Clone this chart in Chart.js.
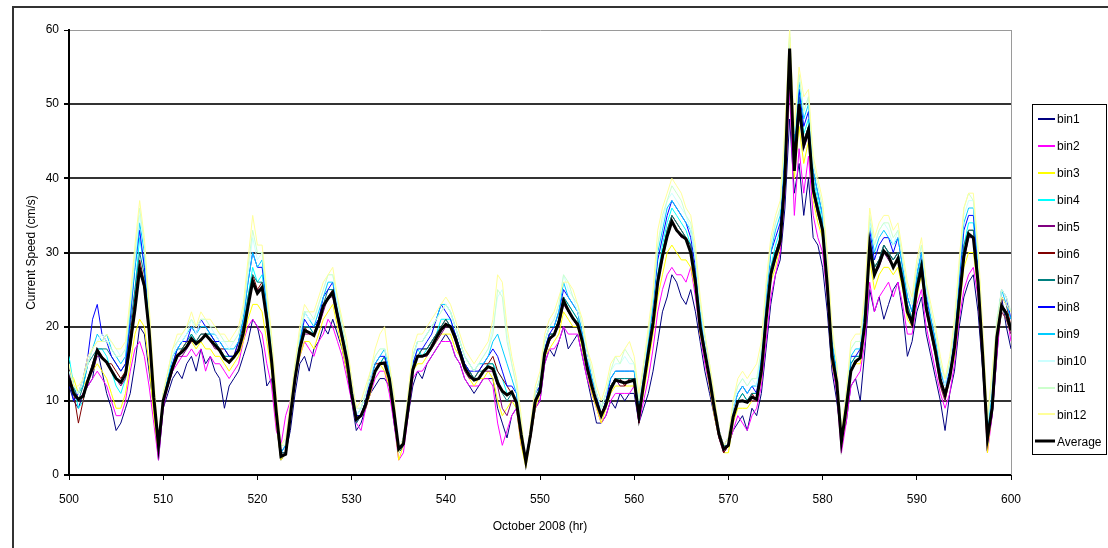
<!DOCTYPE html>
<html>
<head>
<meta charset="utf-8">
<script src="https://cdn.jsdelivr.net/npm/chart.js@4/dist/chart.umd.min.js"></script>
<style>
  html, body { margin: 0; padding: 0; background: #fff; }
  canvas { display: block; }
</style>
</head>
<body>
<canvas id="speedChart" width="1108" height="548"></canvas>
<script>
// half-hourly samples, October 2008, hours 500..600
const hours = Array.from({ length: 201 }, (_, i) => 500 + i * 0.5);
const xTicks = [500, 510, 520, 530, 540, 550, 560, 570, 580, 590, 600];
const yTicks = [0, 10, 20, 30, 40, 50, 60];

const binLabels = ['bin1', 'bin2', 'bin3', 'bin4', 'bin5', 'bin6', 'bin7', 'bin8', 'bin9', 'bin10', 'bin11', 'bin12'];
const binColors = ['#000080', '#FF00FF', '#FFFF00', '#00FFFF', '#800080', '#800000', '#008080', '#0000FF', '#00CCFF', '#CCFFFF', '#CCFFCC', '#FFFF99'];

const bin1 = [
  12, 10, 9, 11, 12, 13, 17, 14, 11, 9, 6, 7, 9, 11, 15, 20, 19, 14, 9, 2,
  9, 11, 13, 14, 13, 15, 16, 14, 17, 15, 16, 14, 13, 9, 12, 13, 14, 16, 18, 21,
  20, 17, 12, 13, 7, 2, 3, 6, 11, 15, 16, 14, 17, 18, 20, 19, 21, 19, 17, 14,
  10, 6, 7, 9, 11, 12, 13, 13, 12, 7, 3, 4, 8, 12, 14, 13, 15, 16, 17, 18,
  19, 18, 16, 15, 13, 12, 11, 12, 13, 13, 13, 9, 7, 5, 8, 9, 5, 2, 5, 9,
  10, 15, 17, 16, 18, 20, 17, 18, 19, 16, 13, 10, 7, 7, 8, 10, 9, 11, 10, 11,
  11, 7, 9, 11, 14, 18, 22, 24, 27, 26, 24, 23, 25, 22, 18, 14, 11, 8, 5, 3,
  4, 6, 7, 8, 6, 9, 8, 11, 17, 23, 27, 29, 36, 48, 38, 42, 35, 40, 32, 31,
  28, 22, 14, 10, 5, 7, 12, 13, 10, 17, 25, 22, 24, 21, 23, 25, 26, 22, 16, 18,
  22, 24, 19, 16, 13, 10, 6, 11, 14, 20, 24, 26, 27, 22, 14, 4, 8, 16, 24, 20,
  17
];
const bin2 = [
  15, 12, 10, 11, 12, 13, 14, 13, 12, 10, 8, 8, 10, 14, 17, 18, 16, 12, 7, 2,
  9, 12, 14, 15, 16, 16, 17, 16, 17, 14, 16, 15, 15, 14, 13, 14, 15, 18, 20, 21,
  20, 19, 15, 12, 6, 4, 8, 10, 13, 16, 18, 17, 16, 18, 19, 21, 20, 18, 16, 13,
  10, 7, 6, 9, 11, 13, 14, 14, 11, 7, 2, 3, 8, 13, 14, 14, 15, 16, 17, 18,
  18, 18, 16, 15, 13, 12, 12, 12, 13, 13, 12, 7, 4, 6, 8, 9, 4, 2, 5, 9,
  10, 15, 17, 17, 18, 20, 19, 19, 19, 16, 13, 11, 9, 7, 8, 10, 11, 11, 11, 11,
  12, 7, 10, 13, 17, 22, 25, 27, 28, 27, 27, 26, 28, 24, 19, 15, 12, 8, 5, 3,
  4, 6, 8, 7, 6, 8, 9, 12, 18, 24, 27, 30, 38, 52, 35, 44, 38, 43, 35, 32,
  30, 24, 15, 11, 3, 7, 12, 13, 14, 18, 26, 22, 24, 25, 26, 24, 26, 23, 19, 19,
  23, 25, 20, 17, 14, 11, 9, 11, 15, 21, 25, 27, 28, 24, 15, 3, 8, 16, 23, 22,
  18
];
const bin3 = [
  14, 13, 11, 12, 13, 14, 15, 14, 13, 11, 9, 9, 11, 15, 19, 21, 20, 15, 8, 3,
  10, 13, 15, 16, 17, 18, 18, 17, 18, 17, 17, 16, 16, 15, 14, 15, 16, 18, 21, 23,
  23, 22, 18, 14, 7, 2, 3, 8, 13, 16, 18, 18, 17, 19, 21, 22, 23, 20, 17, 14,
  11, 8, 8, 9, 11, 14, 15, 14, 12, 8, 2, 4, 9, 14, 15, 15, 16, 17, 18, 19,
  19, 19, 17, 16, 14, 13, 12, 13, 13, 14, 13, 10, 8, 9, 10, 9, 4, 1, 5, 9,
  11, 16, 17, 18, 19, 22, 21, 20, 20, 17, 14, 11, 9, 7, 9, 11, 12, 12, 12, 12,
  12, 8, 11, 15, 19, 24, 27, 30, 31, 30, 29, 29, 28, 25, 19, 16, 12, 8, 5, 3,
  3, 7, 9, 9, 9, 10, 10, 13, 20, 26, 28, 31, 39, 55, 40, 47, 42, 45, 37, 34,
  32, 25, 15, 12, 4, 8, 14, 15, 15, 20, 29, 25, 27, 28, 28, 27, 28, 25, 21, 20,
  24, 27, 22, 19, 16, 12, 10, 13, 16, 22, 28, 30, 30, 25, 16, 3, 9, 18, 22, 21,
  19
];
const bin4 = [
  16, 12, 9, 10, 13, 15, 17, 17, 16, 14, 12, 11, 13, 18, 25, 32, 28, 20, 11, 4,
  10, 12, 15, 16, 17, 17, 19, 18, 18, 19, 19, 18, 17, 16, 16, 16, 17, 20, 24, 28,
  26, 27, 22, 16, 9, 3, 3, 8, 13, 17, 20, 20, 19, 21, 23, 24, 25, 22, 19, 16,
  11, 8, 8, 10, 12, 14, 15, 16, 13, 9, 3, 4, 9, 15, 17, 16, 17, 18, 19, 21,
  21, 21, 19, 17, 15, 14, 13, 13, 14, 15, 15, 14, 13, 11, 11, 10, 6, 2, 6, 10,
  12, 17, 19, 19, 21, 24, 23, 22, 21, 18, 15, 12, 10, 8, 10, 12, 13, 13, 13, 13,
  13, 8, 13, 17, 21, 27, 31, 34, 36, 35, 34, 33, 31, 27, 21, 17, 14, 9, 6, 3,
  4, 8, 10, 11, 10, 11, 11, 15, 22, 28, 31, 33, 42, 58, 43, 52, 46, 48, 40, 37,
  34, 26, 17, 13, 5, 9, 15, 16, 16, 21, 32, 28, 29, 31, 30, 29, 30, 27, 23, 21,
  26, 29, 23, 20, 17, 13, 11, 14, 18, 25, 31, 34, 34, 27, 17, 4, 10, 19, 23, 22,
  20
];
const bin5 = [
  14, 11, 10, 11, 13, 14, 16, 16, 15, 14, 13, 12, 13, 17, 22, 28, 25, 19, 10, 4,
  10, 12, 14, 16, 16, 17, 18, 18, 18, 19, 18, 17, 17, 16, 15, 16, 17, 19, 23, 26,
  25, 25, 21, 15, 8, 3, 3, 9, 13, 17, 19, 19, 19, 20, 22, 24, 24, 21, 18, 15,
  11, 7, 8, 9, 12, 14, 15, 15, 13, 8, 3, 4, 9, 14, 16, 16, 16, 17, 18, 19,
  20, 20, 18, 16, 14, 13, 13, 13, 14, 14, 14, 12, 9, 8, 10, 10, 5, 2, 5, 10,
  11, 16, 18, 19, 20, 23, 22, 21, 20, 18, 14, 12, 10, 8, 9, 12, 13, 12, 12, 13,
  13, 8, 12, 16, 20, 26, 29, 32, 34, 33, 32, 32, 30, 26, 20, 16, 13, 9, 5, 3,
  4, 8, 10, 10, 10, 10, 10, 14, 21, 27, 29, 31, 40, 56, 41, 49, 44, 46, 38, 35,
  33, 25, 16, 12, 4, 9, 14, 15, 16, 20, 31, 27, 28, 30, 29, 28, 29, 26, 22, 20,
  25, 28, 22, 19, 16, 12, 10, 13, 17, 23, 29, 32, 32, 26, 16, 4, 9, 18, 22, 21,
  19
];
const bin6 = [
  15, 11, 7, 10, 13, 15, 17, 16, 15, 15, 14, 13, 14, 19, 24, 29, 26, 19, 10, 4,
  10, 12, 15, 16, 17, 18, 18, 18, 19, 19, 18, 18, 17, 17, 16, 16, 18, 20, 23, 27,
  25, 26, 21, 16, 9, 3, 3, 8, 13, 17, 20, 19, 19, 21, 23, 24, 25, 22, 19, 16,
  12, 8, 8, 10, 13, 15, 15, 15, 13, 9, 3, 4, 9, 14, 16, 17, 17, 18, 19, 20,
  21, 20, 19, 17, 15, 14, 13, 14, 15, 15, 16, 14, 13, 12, 11, 10, 6, 2, 6, 10,
  11, 16, 19, 19, 21, 24, 22, 21, 20, 18, 15, 12, 10, 8, 10, 12, 13, 13, 12, 13,
  13, 7, 12, 17, 21, 26, 30, 33, 35, 34, 33, 32, 31, 27, 20, 17, 13, 9, 6, 3,
  4, 8, 10, 10, 10, 11, 10, 14, 21, 27, 30, 32, 41, 57, 42, 50, 45, 47, 39, 36,
  33, 26, 16, 13, 5, 9, 14, 15, 16, 21, 31, 28, 29, 31, 30, 29, 30, 26, 22, 21,
  25, 28, 23, 20, 17, 13, 11, 13, 17, 24, 30, 33, 33, 27, 16, 5, 9, 19, 24, 23,
  20
];
const bin7 = [
  14, 12, 10, 12, 15, 16, 17, 17, 17, 16, 15, 14, 15, 20, 25, 30, 27, 20, 11, 4,
  10, 13, 15, 17, 17, 18, 19, 18, 19, 19, 19, 18, 17, 16, 16, 16, 17, 20, 24, 27,
  26, 26, 22, 16, 9, 3, 3, 8, 13, 18, 20, 20, 19, 21, 23, 25, 25, 22, 19, 16,
  11, 7, 8, 10, 12, 14, 15, 16, 13, 9, 3, 4, 9, 15, 16, 17, 17, 18, 19, 20,
  21, 20, 19, 17, 15, 14, 13, 14, 14, 15, 15, 13, 11, 10, 11, 10, 5, 2, 6, 10,
  12, 17, 19, 19, 21, 24, 23, 22, 21, 18, 15, 12, 10, 8, 10, 12, 13, 13, 13, 13,
  13, 8, 13, 17, 21, 27, 30, 33, 35, 34, 33, 32, 31, 27, 21, 17, 13, 9, 6, 4,
  4, 8, 10, 11, 10, 11, 11, 15, 22, 28, 30, 32, 41, 58, 42, 51, 45, 47, 39, 36,
  34, 26, 17, 13, 5, 10, 15, 16, 16, 21, 32, 28, 29, 31, 30, 29, 30, 27, 23, 21,
  26, 29, 23, 20, 17, 13, 11, 14, 18, 24, 31, 33, 33, 27, 17, 5, 10, 19, 23, 22,
  20
];
const bin8 = [
  13, 10, 11, 13, 16, 21, 23, 19, 18, 16, 15, 14, 15, 21, 28, 33, 28, 21, 11, 3,
  10, 13, 15, 17, 18, 18, 20, 19, 21, 20, 19, 18, 18, 17, 16, 16, 18, 21, 26, 30,
  28, 28, 23, 17, 9, 3, 4, 9, 14, 18, 21, 20, 20, 21, 24, 25, 26, 22, 19, 16,
  12, 8, 8, 10, 13, 15, 16, 16, 14, 9, 3, 5, 10, 15, 17, 17, 18, 19, 21, 23,
  22, 21, 19, 17, 15, 14, 14, 14, 15, 16, 17, 16, 14, 12, 12, 11, 6, 2, 6, 11,
  12, 17, 19, 20, 22, 25, 24, 23, 22, 19, 16, 13, 11, 8, 10, 13, 14, 14, 14, 14,
  14, 9, 14, 18, 23, 29, 32, 35, 37, 36, 35, 34, 32, 28, 22, 18, 14, 10, 6, 4,
  5, 9, 11, 12, 11, 12, 11, 16, 24, 30, 32, 34, 44, 58, 44, 52, 47, 49, 41, 38,
  35, 27, 18, 14, 5, 10, 16, 16, 17, 23, 33, 29, 31, 32, 32, 30, 32, 28, 24, 22,
  27, 30, 24, 21, 18, 14, 12, 14, 19, 26, 33, 35, 35, 28, 17, 5, 10, 20, 25, 24,
  21
];
const bin9 = [
  15, 12, 11, 12, 15, 17, 19, 18, 19, 17, 16, 15, 16, 22, 28, 34, 30, 21, 12, 4,
  11, 13, 16, 17, 18, 19, 20, 19, 20, 20, 19, 19, 18, 17, 17, 17, 18, 21, 26, 30,
  28, 29, 23, 17, 10, 3, 4, 9, 14, 18, 22, 21, 20, 22, 24, 26, 26, 23, 20, 16,
  12, 8, 9, 11, 13, 15, 16, 17, 14, 10, 3, 5, 10, 16, 18, 18, 19, 20, 21, 23,
  23, 22, 20, 18, 16, 15, 14, 15, 15, 16, 18, 19, 17, 15, 13, 11, 6, 2, 6, 11,
  13, 18, 20, 20, 22, 26, 24, 23, 22, 19, 16, 13, 11, 9, 11, 13, 14, 14, 14, 14,
  14, 9, 14, 18, 23, 30, 33, 36, 37, 36, 35, 34, 33, 29, 22, 18, 14, 10, 6, 4,
  5, 9, 11, 12, 11, 12, 12, 16, 24, 30, 33, 35, 45, 59, 45, 53, 48, 50, 41, 38,
  35, 28, 18, 14, 6, 10, 16, 17, 17, 23, 34, 30, 32, 33, 32, 31, 32, 28, 24, 22,
  27, 30, 25, 21, 18, 14, 12, 15, 19, 27, 34, 36, 36, 29, 18, 6, 11, 20, 25, 23,
  21
];
const bin10 = [
  14, 12, 11, 13, 15, 17, 18, 19, 18, 18, 17, 16, 17, 23, 29, 35, 31, 22, 12, 4,
  11, 14, 16, 18, 18, 19, 21, 19, 21, 21, 20, 19, 18, 18, 17, 18, 19, 22, 27, 32,
  29, 30, 24, 18, 10, 4, 4, 9, 14, 19, 22, 21, 21, 23, 25, 27, 27, 23, 20, 17,
  12, 8, 9, 11, 13, 16, 17, 17, 15, 10, 3, 5, 10, 16, 18, 18, 19, 20, 21, 22,
  23, 22, 20, 18, 16, 15, 14, 15, 16, 17, 20, 24, 25, 19, 15, 12, 7, 2, 6, 11,
  13, 18, 20, 21, 23, 27, 25, 24, 22, 20, 16, 14, 11, 9, 11, 14, 15, 15, 16, 15,
  15, 10, 14, 19, 24, 31, 34, 37, 38, 37, 36, 35, 33, 29, 23, 18, 14, 10, 6, 4,
  5, 9, 12, 13, 12, 13, 12, 17, 25, 31, 34, 36, 46, 59, 46, 54, 49, 51, 42, 39,
  36, 28, 19, 15, 6, 11, 17, 18, 18, 24, 34, 31, 33, 34, 33, 31, 33, 29, 25, 23,
  28, 31, 25, 22, 19, 15, 12, 15, 20, 28, 35, 37, 37, 30, 18, 7, 13, 20, 25, 24,
  22
];
const bin11 = [
  15, 12, 11, 13, 15, 17, 18, 18, 18, 17, 16, 16, 17, 23, 30, 36, 31, 22, 12, 4,
  11, 14, 17, 18, 19, 20, 21, 20, 21, 21, 20, 20, 19, 18, 18, 18, 19, 22, 28, 33,
  30, 30, 24, 18, 10, 4, 4, 10, 15, 19, 22, 22, 21, 23, 25, 27, 27, 24, 20, 17,
  13, 9, 9, 11, 14, 16, 17, 17, 15, 10, 3, 5, 11, 16, 18, 18, 19, 20, 21, 22,
  23, 22, 20, 18, 16, 15, 14, 15, 16, 17, 19, 25, 24, 18, 15, 12, 7, 2, 6, 11,
  13, 18, 20, 21, 23, 27, 26, 24, 23, 20, 17, 14, 11, 9, 11, 14, 16, 15, 17, 16,
  15, 10, 15, 19, 24, 31, 35, 37, 39, 38, 37, 35, 34, 30, 23, 19, 15, 10, 6, 4,
  5, 10, 12, 13, 12, 13, 13, 17, 25, 31, 34, 36, 46, 60, 46, 54, 49, 51, 42, 39,
  36, 29, 19, 15, 6, 11, 17, 18, 18, 24, 35, 31, 33, 34, 34, 32, 33, 29, 25, 23,
  28, 31, 26, 22, 19, 15, 13, 15, 20, 28, 36, 38, 37, 30, 19, 7, 14, 21, 25, 24,
  22
];
const bin12 = [
  15, 12, 12, 13, 16, 17, 18, 18, 19, 18, 17, 17, 18, 24, 31, 37, 32, 23, 13, 5,
  11, 14, 17, 19, 19, 20, 22, 20, 22, 21, 21, 20, 19, 19, 18, 19, 20, 23, 29, 35,
  31, 31, 25, 19, 11, 4, 5, 10, 15, 20, 23, 22, 22, 24, 26, 27, 28, 24, 21, 18,
  13, 9, 10, 12, 14, 17, 19, 20, 15, 11, 3, 5, 11, 17, 19, 19, 20, 21, 22, 23,
  24, 23, 21, 19, 17, 16, 15, 16, 17, 18, 21, 27, 26, 20, 16, 13, 8, 1, 7, 12,
  14, 19, 21, 22, 24, 26, 26, 25, 23, 21, 17, 15, 12, 10, 12, 15, 16, 16, 17, 18,
  16, 11, 15, 20, 25, 33, 36, 38, 40, 39, 38, 36, 35, 31, 24, 19, 15, 11, 6, 4,
  5, 10, 13, 14, 13, 14, 15, 18, 26, 32, 35, 37, 47, 60, 47, 55, 51, 52, 43, 40,
  37, 30, 20, 15, 6, 11, 18, 19, 19, 25, 36, 32, 34, 35, 35, 33, 34, 30, 26, 24,
  29, 32, 26, 23, 20, 16, 13, 16, 21, 29, 36, 38, 38, 31, 20, 8, 14, 20, 24, 23,
  22
];
const average = [
  13, 11, 10.2, 10.6, 12.7, 14.5, 16.8, 15.8, 15.2, 14.1, 13, 12.5, 13.6, 17.7, 22.3, 27.8, 25.5, 19.5, 10.5, 4,
  10, 12.3, 14.5, 16.1, 16.6, 17.3, 18.4, 17.7, 18.2, 18.9, 18.2, 17.5, 16.8, 15.7, 15.2, 15.9, 16.8, 19.1, 22.7, 26.1,
  24.5, 25.3, 21, 15.5, 8.5, 2.5, 2.8, 8, 13, 17, 19.5, 19.2, 18.8, 20.5, 22.8, 23.8, 24.6, 21.5, 18.6, 15.5,
  11, 7.5, 8, 9.5, 11.8, 14, 15, 15.1, 13, 8.5, 3.5, 4.2, 9, 14.2, 16, 16, 16.3, 17.3, 18.5, 19.6,
  20.3, 20, 18.5, 16.5, 14.5, 13.4, 12.8, 13, 14, 14.6, 14.3, 12.4, 11.3, 10.8, 11.2, 9.8, 5.5, 1.8, 5.5, 10,
  11.3, 16.4, 18.4, 18.9, 20.6, 23.5, 22.2, 21.1, 20.3, 18, 14.5, 12, 9.8, 8, 9.5, 11.6, 12.8, 12.6, 12.4, 12.6,
  12.8, 8, 12.3, 16.5, 20.5, 26, 29.5, 32.2, 34.2, 33, 32.3, 31.8, 30, 26, 20, 16.5, 13, 9, 5.5, 3.5,
  4, 7.8, 9.9, 10, 9.8, 10.5, 10.2, 14, 21, 27, 29.5, 31.5, 40, 57.5, 41, 50, 44.5, 46.5, 38.5, 35.7,
  33, 25.5, 16, 12.5, 4.5, 9, 14, 15.3, 15.8, 20.5, 31, 27, 28.5, 30.2, 29.5, 28, 29.2, 26, 22, 20.5,
  25, 28, 22.5, 19.5, 16.5, 12.8, 10.8, 13.2, 17.2, 23.5, 29.5, 32.5, 32, 26, 16, 5, 9, 18.6, 22.8, 21.8,
  19.5
];

const binSeries = [bin1, bin2, bin3, bin4, bin5, bin6, bin7, bin8, bin9, bin10, bin11, bin12];
const FONT = "'Liberation Sans', Arial, sans-serif";

function toPoints(values) {
  return values.map((v, i) => ({ x: hours[i], y: v }));
}

const datasets = binSeries.map((values, i) => ({
  label: binLabels[i],
  data: toPoints(values),
  borderColor: binColors[i],
  borderWidth: 1,
  order: binSeries.length - i // later bins are painted over earlier ones
}));
datasets.push({
  label: 'Average',
  data: toPoints(average),
  borderColor: '#000000',
  borderWidth: 3,
  order: 0
});

// frame, plot border, axis titles and the boxed legend
const decorations = {
  id: 'decorations',
  afterDraw(chart) {
    const ctx = chart.ctx;
    const area = chart.chartArea;
    ctx.save();

    // outer chart frame
    ctx.strokeStyle = '#333';
    ctx.lineWidth = 2;
    ctx.strokeRect(13, 7, 1200, 600);

    // right edge of the plot area
    ctx.strokeStyle = '#9a9a9a';
    ctx.lineWidth = 1;
    ctx.beginPath();
    ctx.moveTo(Math.round(area.right) + 0.5, area.top);
    ctx.lineTo(Math.round(area.right) + 0.5, area.bottom);
    ctx.stroke();

    // axis titles
    ctx.fillStyle = '#000';
    ctx.font = '12px ' + FONT;
    ctx.textAlign = 'center';
    ctx.textBaseline = 'middle';
    ctx.fillText('October 2008 (hr)', (area.left + area.right) / 2, 527);
    ctx.save();
    ctx.translate(32, (area.top + area.bottom) / 2);
    ctx.rotate(-Math.PI / 2);
    ctx.fillText('Current Speed (cm/s)', 0, 0);
    ctx.restore();

    // legend
    const box = { left: 1032, top: 104, right: 1106, bottom: 454 };
    ctx.strokeStyle = '#000';
    ctx.lineWidth = 1;
    ctx.strokeRect(box.left + 0.5, box.top + 0.5, box.right - box.left, box.bottom - box.top);
    ctx.textAlign = 'left';
    const ds = chart.data.datasets;
    ds.forEach((d, i) => {
      const y = 119 + i * 26.85;
      ctx.strokeStyle = d.borderColor;
      ctx.lineWidth = d.borderWidth > 1 ? 3 : 2;
      ctx.beginPath();
      ctx.moveTo(d.borderWidth > 1 ? 1035 : 1038, Math.round(y));
      ctx.lineTo(1055, Math.round(y));
      ctx.stroke();
      ctx.fillStyle = '#000';
      ctx.fillText(d.label, 1057, y + 1);
    });
    ctx.restore();
  }
};

new Chart(document.getElementById('speedChart'), {
  type: 'line',
  data: { datasets },
  options: {
    responsive: false,
    animation: false,
    devicePixelRatio: 1,
    parsing: true,
    elements: { point: { radius: 0 }, line: { tension: 0 } },
    layout: { padding: { left: 0, top: 30, right: 97, bottom: 0 } },
    plugins: { legend: { display: false }, tooltip: { enabled: false } },
    scales: {
      x: {
        type: 'linear',
        min: 500,
        max: 600,
        afterBuildTicks: (scale) => { scale.ticks = xTicks.map(v => ({ value: v })); },
        afterFit: (scale) => { scale.height = 73; },
        ticks: { color: '#000', font: { family: FONT, size: 12 }, padding: 12, maxRotation: 0 },
        grid: { drawOnChartArea: false, drawTicks: true, tickLength: 5, color: '#000', lineWidth: 1 },
        border: { color: '#000', width: 2 }
      },
      y: {
        min: 0,
        max: 60,
        afterBuildTicks: (scale) => { scale.ticks = yTicks.map(v => ({ value: v })); },
        afterFit: (scale) => { scale.width = 69; },
        ticks: { color: '#000', font: { family: FONT, size: 12 }, padding: 5 },
        grid: {
          drawTicks: true,
          tickLength: 5,
          color: (c) => c.tick && c.tick.value === 60 ? '#9a9a9a' : '#333',
          lineWidth: (c) => c.tick && c.tick.value === 60 ? 1 : 2,
          tickColor: '#000'
        },
        border: { color: '#000', width: 2 }
      }
    }
  },
  plugins: [decorations]
});
</script>
</body>
</html>
